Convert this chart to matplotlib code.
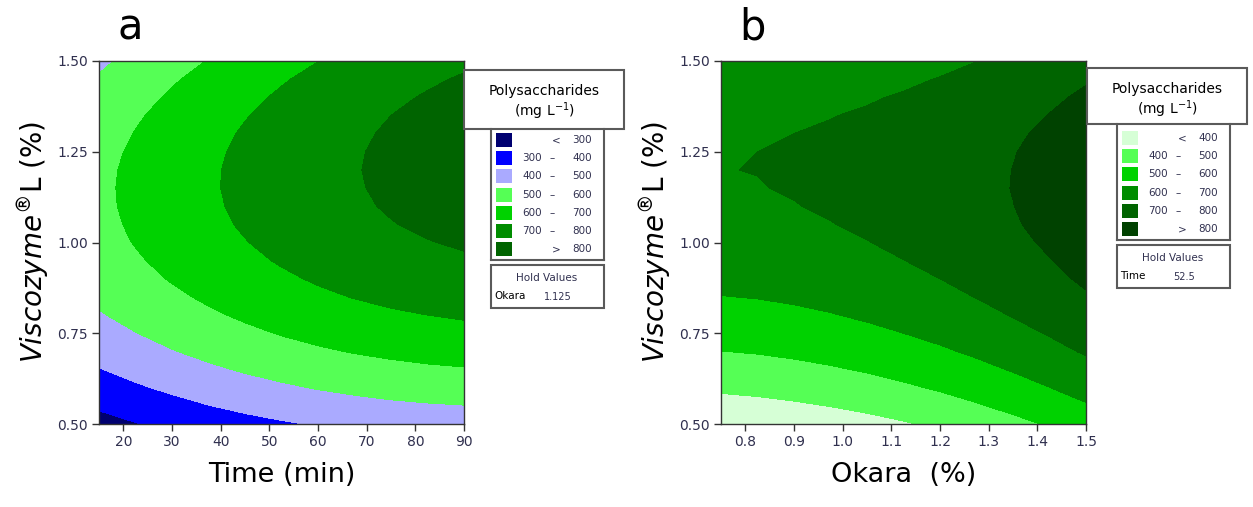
import numpy as np
import matplotlib.pyplot as plt
from matplotlib.patches import Rectangle

# grid of the response surfaces (mg/L)
time_min = [15, 22.5, 30, 37.5, 45, 52.5, 60, 67.5, 75, 82.5, 90]
okara_pct = [0.75, 0.825, 0.9, 0.975, 1.05, 1.125, 1.2, 1.275, 1.35, 1.425, 1.5]
visc_pct = [0.50, 0.55, 0.60, 0.65, 0.70, 0.75, 0.80, 0.85, 0.90, 0.95, 1.00,
            1.05, 1.10, 1.15, 1.20, 1.25, 1.30, 1.35, 1.40, 1.45, 1.50]

# rows = visc_pct, columns = time_min (Okara held at 1.125)
poly_a = [
    [265, 296, 324, 349, 371, 390, 407, 420, 431, 439, 445],
    [313, 344, 372, 398, 421, 441, 458, 472, 484, 492, 498],
    [357, 388, 417, 444, 467, 487, 505, 520, 532, 542, 548],
    [396, 429, 458, 485, 509, 530, 549, 564, 577, 587, 594],
    [432, 465, 496, 523, 548, 570, 589, 605, 618, 629, 637],
    [464, 498, 529, 557, 582, 605, 624, 641, 655, 667, 675],
    [493, 527, 558, 587, 613, 636, 656, 674, 689, 700, 710],
    [517, 552, 584, 613, 640, 664, 685, 703, 718, 730, 740],
    [538, 573, 606, 636, 663, 687, 709, 728, 744, 757, 767],
    [554, 590, 624, 654, 682, 707, 729, 749, 765, 779, 790],
    [567, 604, 638, 669, 697, 723, 746, 766, 783, 797, 809],
    [576, 613, 648, 680, 709, 735, 758, 779, 797, 812, 824],
    [581, 619, 654, 687, 716, 743, 767, 789, 807, 823, 836],
    [582, 621, 657, 690, 720, 748, 772, 794, 813, 830, 843],
    [580, 619, 655, 689, 720, 748, 773, 796, 816, 833, 847],
    [573, 613, 650, 684, 716, 745, 771, 794, 814, 832, 846],
    [563, 603, 641, 676, 708, 738, 764, 788, 809, 827, 842],
    [548, 590, 628, 664, 696, 726, 754, 778, 800, 818, 834],
    [530, 572, 611, 647, 681, 711, 739, 764, 787, 806, 823],
    [508, 551, 591, 627, 661, 693, 721, 747, 770, 790, 807],
    [483, 526, 566, 603, 638, 670, 699, 725, 749, 770, 787],
]

# rows = visc_pct, columns = okara_pct (Time held at 52.5)
poly_b = [
    [315, 325, 337, 353, 371, 392, 417, 445, 475, 509, 546],
    [367, 376, 388, 402, 420, 441, 465, 492, 523, 556, 592],
    [415, 423, 434, 449, 466, 487, 510, 537, 566, 599, 635],
    [459, 466, 477, 491, 508, 528, 551, 577, 606, 638, 673],
    [499, 506, 517, 530, 546, 566, 588, 614, 642, 674, 709],
    [536, 542, 552, 565, 581, 600, 622, 647, 675, 706, 740],
    [568, 575, 584, 596, 612, 630, 652, 676, 704, 734, 768],
    [598, 603, 612, 624, 639, 657, 678, 702, 729, 759, 792],
    [623, 628, 637, 648, 662, 680, 700, 724, 750, 780, 813],
    [645, 650, 658, 668, 682, 699, 719, 742, 768, 797, 829],
    [663, 667, 675, 685, 698, 715, 734, 757, 782, 811, 842],
    [678, 681, 688, 698, 711, 727, 746, 768, 793, 821, 852],
    [688, 692, 698, 707, 719, 735, 753, 775, 799, 827, 857],
    [695, 698, 704, 713, 724, 739, 757, 778, 802, 829, 859],
    [699, 701, 706, 714, 726, 740, 757, 778, 801, 828, 857],
    [698, 700, 705, 712, 723, 737, 754, 774, 797, 823, 852],
    [694, 695, 700, 707, 717, 731, 747, 766, 789, 814, 843],
    [687, 687, 691, 698, 707, 720, 736, 755, 777, 802, 830],
    [675, 675, 678, 685, 694, 706, 721, 740, 761, 786, 813],
    [660, 660, 662, 668, 677, 688, 703, 721, 742, 766, 793],
    [641, 640, 642, 647, 656, 667, 681, 699, 719, 743, 769],
]

levels_a = [300, 400, 500, 600, 700, 800]
colors_a = ['#000070', '#0000ff', '#aaaaff', '#55ff55', '#00d200', '#008c00', '#006400']
levels_b = [400, 500, 600, 700, 800]
colors_b = ['#d6ffd6', '#55ff55', '#00d200', '#008c00', '#006400', '#004200']

xticks_a = [20, 30, 40, 50, 60, 70, 80, 90]
xticks_b = [0.8, 0.9, 1.0, 1.1, 1.2, 1.3, 1.4, 1.5]
yticks = [0.50, 0.75, 1.00, 1.25, 1.50]

W, H = 1253, 507
fig = plt.figure(figsize=(W / 100, H / 100), dpi=100)
ink = '#30304f'


def fx(x):
    return x / W


def fy(y):
    return 1 - y / H


def panel(left, x, z, levels, colors, xticks, xfmt, xlabel, letter):
    ax = fig.add_axes([fx(left), fy(424), 365 / W, 363 / H])
    bounds = [-1e4] + levels + [1e4]
    ax.contourf(x, visc_pct, np.array(z), levels=bounds, colors=colors)
    ax.set_xlim(x[0], x[-1])
    ax.set_ylim(0.5, 1.5)
    ax.set_xticks(xticks)
    ax.set_xticklabels([xfmt % v for v in xticks])
    ax.set_yticks(yticks)
    ax.set_yticklabels(['%.2f' % v for v in yticks])
    ax.tick_params(direction='out', length=5, width=1, color='#333333',
                   labelsize=10, labelcolor=ink, pad=3)
    for s in ax.spines.values():
        s.set_color('#333333')
        s.set_linewidth(1)
    ax.set_xlabel(xlabel, fontsize=19.5)
    ax.xaxis.set_label_coords(0.5, -0.105)
    ax.set_ylabel(r'$\mathit{Viscozyme}^{\circledR}$L (%)', fontsize=20)
    ax.yaxis.set_label_coords(-0.128, 0.5)
    fig.text(fx(left + 31), fy(27), letter, fontsize=30, ha='center', va='center')
    return ax


def line(x0, y0, x1, y1):
    fig.add_artist(plt.Line2D([fx(x0), fx(x1)], [fy(y0), fy(y1)],
                              transform=fig.transFigure, color='#5a5a5a', lw=1.5))


def legend(bx, tl, tt, tb, y0, levels, colors, hold):
    fig.add_artist(Rectangle((fx(tl), fy(tb)), 160 / W, (tb - tt) / H,
                             transform=fig.transFigure, fc='white', ec='#5a5a5a', lw=1.5))
    fig.text(fx(tl + 80), fy(tt + 21), 'Polysaccharides', fontsize=10,
             ha='center', va='center')
    fig.text(fx(tl + 80), fy(tt + 41), '(mg L$^{-1}$)', fontsize=10,
             ha='center', va='center')
    step = 18.2
    n = len(colors)
    bot = y0 + (n - 1) * step + 11
    line(bx, tb, bx, bot)
    line(bx + 113, tb, bx + 113, bot)
    line(bx, bot, bx + 113, bot)
    for i, c in enumerate(colors):
        yc = y0 + i * step
        fig.add_artist(Rectangle((fx(bx + 5), fy(yc + 7)), 16 / W, 14 / H,
                                 transform=fig.transFigure, fc=c, ec='none'))
        kw = dict(fontsize=7.5, color=ink, va='center')
        if i == 0:
            fig.text(fx(bx + 65), fy(yc), '<', ha='center', **kw)
            fig.text(fx(bx + 101), fy(yc), str(levels[0]), ha='right', **kw)
        elif i == n - 1:
            fig.text(fx(bx + 65), fy(yc), '>', ha='center', **kw)
            fig.text(fx(bx + 101), fy(yc), str(levels[-1]), ha='right', **kw)
        else:
            fig.text(fx(bx + 51), fy(yc), str(levels[i - 1]), ha='right', **kw)
            fig.text(fx(bx + 61), fy(yc), '\u2013', ha='center', **kw)
            fig.text(fx(bx + 101), fy(yc), str(levels[i]), ha='right', **kw)
    ht = bot + 5
    fig.add_artist(Rectangle((fx(bx), fy(ht + 43)), 113 / W, 43 / H,
                             transform=fig.transFigure, fc='white', ec='#5a5a5a', lw=1.5))
    fig.text(fx(bx + 56), fy(ht + 13), 'Hold Values', fontsize=7.5, color=ink,
             ha='center', va='center')
    fig.text(fx(bx + 3), fy(ht + 31), hold[0], fontsize=7.5, color='black',
             ha='left', va='center')
    fig.text(fx(bx + 67), fy(ht + 32), hold[1], fontsize=7, color=ink,
             ha='center', va='center')


panel(99, time_min, poly_a, levels_a, colors_a, xticks_a, '%d', 'Time (min)', 'a')
panel(721, okara_pct, poly_b, levels_b, colors_b, xticks_b, '%.1f', 'Okara  (%)', 'b')

legend(491, 464, 70, 129, 140, levels_a, colors_a, ('Okara', '1.125'))
legend(1117, 1087, 68, 124, 138, levels_b, colors_b, ('Time', '52.5'))

fig.savefig('out.png', dpi=100)
